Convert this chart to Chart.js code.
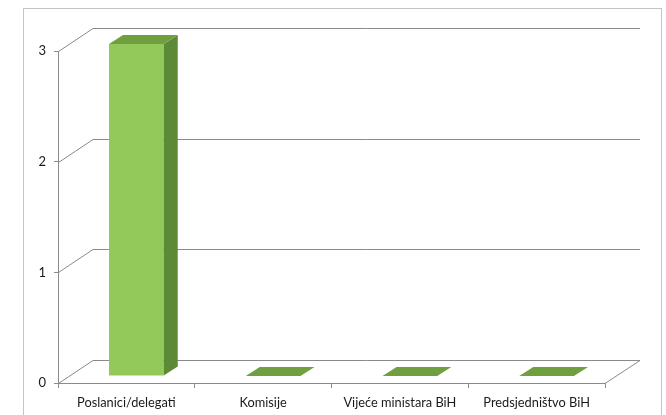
<!DOCTYPE html>
<html>
<head>
<meta charset="utf-8">
<script src="https://cdn.jsdelivr.net/npm/chart.js@4.4.0/dist/chart.umd.min.js"></script>
<style>
  html, body { margin: 0; padding: 0; background: #fff; overflow: hidden; }
  #wrap { width: 666px; height: 415px; }
</style>
</head>
<body>
<div id="wrap"><canvas id="barChart" width="666" height="415"></canvas></div>
<script>
const categories = ['Poslanici/delegati', 'Komisije', 'Vijeće ministara BiH', 'Predsjedništvo BiH'];
const values = [3, 0, 0, 0];
const yTicks = [0, 1, 2, 3];

const lineColor = '#8a8a8a';
const depth = { dx: 35, dy: -23 };     // floor and back wall
const barDepth = { dx: 14, dy: -9 };   // depth of one bar
const barShift = { dx: 10, dy: -7 };   // bar sits in the middle of the depth
const faceColors = { front: '#93c85a', side: '#5c8a37', top: '#6f9f3f' };

// draws the excel style 3d frame + bars
const frame3d = {
  id: 'frame3d',
  beforeDraw(chart) {
    const ctx = chart.ctx;
    ctx.save();
    ctx.strokeStyle = '#c4c4c4';
    ctx.lineWidth = 1;
    ctx.strokeRect(23.5, 8.5, 638, 440);
    ctx.restore();
  },
  beforeDatasetsDraw(chart) {
    const ctx = chart.ctx;
    const area = chart.chartArea;
    const yScale = chart.scales.y;
    ctx.save();
    ctx.strokeStyle = lineColor;
    ctx.lineWidth = 1;
    yTicks.forEach(v => {
      const y = Math.round(yScale.getPixelForValue(v)) + 0.5;
      ctx.beginPath();
      ctx.moveTo(area.left + 0.5, y);
      ctx.lineTo(area.left + depth.dx, y + depth.dy);
      ctx.lineTo(area.right + depth.dx, y + depth.dy);
      ctx.stroke();
    });
    // right edge of floor
    const yb = Math.round(area.bottom) + 0.5;
    ctx.beginPath();
    ctx.moveTo(area.right, yb);
    ctx.lineTo(area.right + depth.dx, yb + depth.dy);
    ctx.stroke();

    // bars
    const meta = chart.getDatasetMeta(0);
    meta.data.forEach(bar => {
      const { x, y, base, width } = bar.getProps(['x', 'y', 'base', 'width'], true);
      const x0 = x - width / 2 + barShift.dx;
      const x1 = x + width / 2 + barShift.dx;
      const yTop = y + barShift.dy;
      const yBot = base + barShift.dy;
      ctx.fillStyle = faceColors.front;
      ctx.fillRect(x0, yTop, x1 - x0, yBot - yTop);
      ctx.fillStyle = faceColors.side;
      ctx.beginPath();
      ctx.moveTo(x1, yTop);
      ctx.lineTo(x1 + barDepth.dx, yTop + barDepth.dy);
      ctx.lineTo(x1 + barDepth.dx, yBot + barDepth.dy);
      ctx.lineTo(x1, yBot);
      ctx.closePath();
      ctx.fill();
      ctx.fillStyle = faceColors.top;
      ctx.beginPath();
      ctx.moveTo(x0, yTop);
      ctx.lineTo(x1, yTop);
      ctx.lineTo(x1 + barDepth.dx, yTop + barDepth.dy);
      ctx.lineTo(x0 + barDepth.dx, yTop + barDepth.dy);
      ctx.closePath();
      ctx.fill();
    });
    ctx.restore();
    return false;
  }
};

const labelFont = { family: 'Lato', size: 12.8 };

const barChart = new Chart(document.getElementById('barChart'), {
  type: 'bar',
  data: {
    labels: categories,
    datasets: [{
      data: values,
      backgroundColor: faceColors.front,
      categoryPercentage: 1,
      barPercentage: 0.4
    }]
  },
  options: {
    responsive: false,
    animation: false,
    layout: { padding: { left: 30, right: 61, top: 51, bottom: 0 } },
    scales: {
      x: {
        afterFit(scale) { scale.height = 32; },
        grid: { drawOnChartArea: false, tickLength: 5, color: lineColor },
        border: { display: true, color: lineColor },
        ticks: { color: '#1a1a1a', font: labelFont, padding: 7, maxRotation: 0, autoSkip: false }
      },
      y: {
        min: 0,
        max: 3,
        afterFit(scale) { scale.width = 28; },
        grid: { drawOnChartArea: false, tickLength: 4, color: lineColor },
        border: { display: true, color: lineColor },
        ticks: { stepSize: 1, color: '#1a1a1a', font: { family: 'Lato', size: 13 }, padding: 8 }
      }
    },
    plugins: {
      legend: { display: false },
      tooltip: { enabled: false }
    }
  },
  plugins: [frame3d]
});
</script>
</body>
</html>
